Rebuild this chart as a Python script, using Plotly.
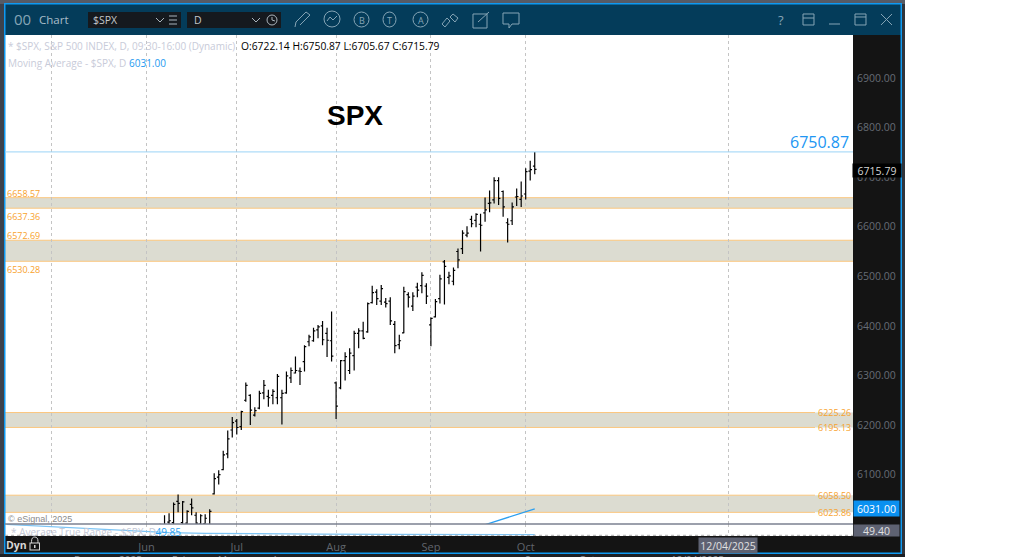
import plotly.graph_objects as go

W, H = 1024, 557

opens = [5980, 5990, 6004, 6003, 6046, 6003, 6002, 6040, 6018, 6000, 6001, 5995, 6061, 6095, 6110, 6142,
         6190, 6208, 6197, 6250, 6260, 6220, 6234, 6265, 6258, 6260, 6255, 6255, 6265, 6295, 6305, 6309,
         6328, 6368, 6370, 6392, 6400, 6385, 6370, 6285, 6275, 6330, 6310, 6340, 6385, 6390, 6388, 6447,
         6468, 6450, 6448, 6450, 6403, 6362, 6386, 6463, 6440, 6478, 6481, 6480, 6402, 6418, 6455, 6529,
         6498, 6490, 6550, 6556, 6583, 6615, 6613, 6605, 6628, 6647, 6654, 6693, 6671, 6608, 6612, 6660,
         6655, 6666, 6712, 6722.14]
highs = [6001, 6018, 6022, 6044, 6060, 6047, 6028, 6052, 6024, 6020, 6020, 6030, 6103, 6109, 6148, 6189,
         6216, 6212, 6229, 6286, 6262, 6236, 6269, 6291, 6271, 6272, 6303, 6271, 6308, 6316, 6338, 6316,
         6361, 6382, 6396, 6402, 6410, 6396, 6429, 6288, 6331, 6347, 6355, 6390, 6395, 6408.5, 6447, 6481,
         6474, 6482.5, 6456, 6458, 6410, 6382, 6479, 6468, 6468, 6487, 6508, 6486, 6417, 6454, 6503, 6533,
         6509, 6518, 6556, 6593, 6601, 6622, 6627, 6626, 6659, 6673, 6700, 6700, 6673, 6617, 6649, 6677,
         6691, 6718, 6733, 6750.87]
lows = [5975, 5985, 5990, 5995, 6024, 6001, 5990, 6018, 5985, 5985, 5985, 5990, 6060, 6080, 6109, 6133,
        6175, 6181, 6190, 6247, 6200, 6217, 6232, 6252, 6237, 6242, 6242, 6201, 6263, 6285, 6304, 6281,
        6308, 6359, 6368, 6375, 6361, 6337, 6328, 6212, 6272, 6290, 6303, 6310, 6355, 6373, 6386, 6445,
        6442, 6442, 6437, 6402, 6345, 6353, 6385, 6437, 6430, 6458, 6466, 6444, 6359, 6417, 6445, 6443,
        6484, 6482, 6516, 6545, 6579, 6599, 6599, 6550, 6610, 6629, 6647, 6644, 6620, 6568, 6603.5, 6642,
        6640, 6655, 6693, 6705.67]
closes = [5998, 5992, 6007, 6040, 6042, 6045, 6026, 6033, 6002, 6017, 6012, 6026, 6092, 6100, 6140, 6172,
          6205, 6195, 6227, 6280, 6230, 6229, 6264, 6280, 6255, 6268, 6298, 6264, 6299, 6310, 6310, 6308,
          6358, 6378, 6390, 6398, 6372, 6371, 6339, 6238, 6330, 6338, 6345, 6385, 6390, 6375, 6445, 6467,
          6455, 6475, 6445, 6410, 6360, 6370, 6469, 6458, 6460, 6472, 6502, 6460, 6415, 6449, 6495, 6520,
          6501, 6512, 6533, 6587, 6587, 6606, 6625, 6603, 6634, 6648, 6693, 6657, 6640, 6605, 6640, 6661,
          6662, 6711, 6715, 6715.79]
bars = list(range(len(closes)))

ma_bars = [71, 72, 73, 74, 75, 76, 77, 78, 79, 80, 81, 82, 83]
ma_values = [5996, 5999, 6002, 6005, 6008, 6011, 6014, 6017, 6020, 6023, 6026, 6029, 6031]

atr_bars = [-34, -28, -22, -15, -7, 2, 10, 20, 35, 50, 65, 83]
atr_values = [74, 70.5, 67, 62.5, 58, 54, 52.5, 51, 50.5, 50, 49.7, 49.4]

grid_bars = [-24, -3, 17, 39, 60, 81, 126]
grid_labels = ["", "Jun", "Jul", "Aug", "Sep", "Oct", ""]
price_ticks = [6100, 6200, 6300, 6400, 6500, 6600, 6700, 6800, 6900]
zone_tops = [6658.57, 6572.69, 6225.26, 6058.50]
zone_bottoms = [6637.36, 6530.28, 6195.13, 6023.86]
# axis of the window behind this one, only its top edge shows
behind_labels = ["Dec", "2025", "Feb", "Mar", "Apr", "Sep", "Oct", "12/04/2025"]
behind_xs = [83, 130, 180, 227, 280, 533, 587, 697]

LEFT, RIGHT, TOP, PANE_TOP, PANE_BOTTOM = 5, 853, 35, 524, 536
BAR_RANGE = [-34.34, 153.5]
PRICE_RANGE = [6000.4, 6986.7]
FONT = "Open Sans"
ORANGE = "#f8a22c"
BLUE = "#0f9af2"
ICON = "#86a5b6"


def px(x):
    return x / W


def py(y):
    return 1 - y / H


def rect(x0, y0, x1, y1, color, layer="above"):
    return dict(type="rect", xref="paper", yref="paper", x0=px(x0), x1=px(x1), y0=py(y0), y1=py(y1),
                fillcolor=color, line_width=0, layer=layer)


def circle(x0, y0, x1, y1, color=ICON, width=1):
    return dict(type="circle", xref="paper", yref="paper", x0=px(x0), x1=px(x1), y0=py(y0), y1=py(y1),
                line=dict(color=color, width=width), layer="above")


def stroke(points, color=ICON, width=1, closed=False):
    path = "M " + " L ".join(f"{px(x):.5f} {py(y):.5f}" for x, y in points)
    if closed:
        path += " Z"
    return dict(type="path", xref="paper", yref="paper", path=path, line=dict(color=color, width=width), layer="above")


def note(text, x, y, size=10, color="#000", anchor="left", family=FONT, **kw):
    return dict(text=text, xref="paper", yref="paper", x=px(x), y=py(y), xanchor=anchor, yanchor="middle",
                showarrow=False, font=dict(size=size, color=color, family=family), borderpad=0, **kw)


def price_note(text, x, price, anchor="left"):
    return dict(text=text, xref="paper", yref="y", x=px(x), y=price, xanchor=anchor, yanchor="middle",
                showarrow=False, font=dict(size=9, color=ORANGE, family=FONT), borderpad=0)


fig = go.Figure()
fig.add_trace(go.Ohlc(x=bars, open=opens, high=highs, low=lows, close=closes, tickwidth=0.4,
                      increasing_line=dict(color="#000", width=1.2),
                      decreasing_line=dict(color="#000", width=1.2),
                      xaxis="x", yaxis="y", showlegend=False, hoverinfo="skip"))
fig.add_trace(go.Scatter(x=ma_bars, y=ma_values, mode="lines", line=dict(color="#2b9ff0", width=1.3),
                         xaxis="x", yaxis="y", showlegend=False, hoverinfo="skip"))
fig.add_trace(go.Scatter(x=atr_bars, y=atr_values, mode="lines", line=dict(color="#7cc4f5", width=1.2),
                         xaxis="x2", yaxis="y2", showlegend=False, hoverinfo="skip"))
# lower pane legend gets cut by the pane edge, so it has to be a clipped trace
fig.add_trace(go.Scatter(x=[-33, -1], y=[51, 51], mode="text", text=["* Average True Range - $SPX, D", "49.85"],
                         textposition="middle right", textfont=dict(size=10, color=["#c4c8d6", "#2b9ff0"], family=FONT),
                         cliponaxis=True, xaxis="x2", yaxis="y2", showlegend=False, hoverinfo="skip"))

shapes = [
    # window chrome
    rect(0, 0, 905, 4, "#565b66", "below"),
    rect(0, 4, 4, 557, "#3d424c", "below"),
    rect(902, 4, 905, 557, "#30343b", "below"),
    rect(0, 554, 905, 557, "#1c1f24", "below"),
    rect(853, 35, 901, 553, "#141414", "below"),
    rect(5, 536, 853, 553, "#141414", "below"),
    rect(5, 4, 901, 35, "#043c5a"),
    rect(4, 3, 902, 4.5, BLUE),
    rect(4, 3, 5.5, 554, BLUE),
    rect(900.5, 3, 902, 554, BLUE),
    rect(4, 552.5, 902, 554, BLUE),
    rect(88, 12, 181, 28, "#15191e"),
    rect(187, 12, 281, 28, "#15191e"),
    # price line and pane separator
    dict(type="line", xref="paper", yref="y", x0=px(LEFT), x1=px(RIGHT), y0=highs[-1], y1=highs[-1],
         line=dict(color="#9ad3f6", width=1), layer="above"),
    dict(type="line", xref="paper", yref="paper", x0=px(LEFT), x1=px(RIGHT), y0=py(524), y1=py(524),
         line=dict(color="#7b8190", width=1.4), layer="above"),
    dict(type="line", xref="paper", yref="paper", x0=px(LEFT), x1=px(RIGHT), y0=py(535.3), y1=py(535.3),
         line=dict(color="#aaaaaa", width=1, dash="dot"), layer="above"),
    # toolbar icons
    stroke([(156, 18), (160, 22), (164, 18)], "#aab4bc"),
    stroke([(169, 16), (177, 16)], "#aab4bc"), stroke([(169, 20), (177, 20)], "#aab4bc"), stroke([(169, 24), (177, 24)], "#aab4bc"),
    stroke([(252, 18), (256, 22), (260, 18)], "#aab4bc"),
    circle(267, 15, 277, 25, "#aab4bc"),
    stroke([(272, 17), (272, 20), (275, 21)], "#aab4bc"),
    stroke([(295, 27), (296, 22), (306, 12), (310, 15), (300, 25)]),
    circle(324, 11, 340, 27),
    stroke([(327, 21), (330, 17), (333, 20), (337, 16)]),
    circle(354, 12, 369, 27),
    circle(383, 12, 396, 27),
    circle(413, 12, 428, 27),
    stroke([(442, 24), (447, 18), (450, 21), (445, 27)], closed=True),
    stroke([(453, 14), (458, 18), (455, 22), (450, 17)], closed=True),
    stroke([(473, 14), (487, 14), (487, 28), (473, 28)], closed=True),
    stroke([(478, 22), (489, 12)]),
    stroke([(503, 13), (519, 13), (519, 24), (512, 24), (509, 28), (509, 24), (503, 24)], closed=True),
    stroke([(803, 14), (814, 14), (814, 25), (803, 25)], closed=True),
    stroke([(803, 18), (814, 18)]),
    stroke([(829, 24), (840, 24)]),
    stroke([(855, 14), (866, 14), (866, 25), (855, 25)], closed=True),
    stroke([(855, 17), (866, 17)]),
    stroke([(881, 14), (892, 25)]),
    stroke([(892, 14), (881, 25)]),
    # lock
    circle(31.5, 537, 38, 546, "#d5d5d5"),
    rect(29.5, 542.5, 40, 550.5, "#d5d5d5"),
    rect(30.5, 543.5, 39, 549.5, "#141414"),
    rect(34, 545, 35.5, 548, "#d5d5d5"),
]

for i, (top, bottom) in enumerate(zip(zone_tops, zone_bottoms)):
    x_end = RIGHT if i < 2 else 815
    shapes.append(dict(type="rect", xref="paper", yref="y", x0=px(LEFT), x1=px(RIGHT), y0=bottom, y1=top,
                       fillcolor="#dcdcd1", line_width=0, layer="below"))
    for level in (top, bottom):
        shapes.append(dict(type="line", xref="paper", yref="y", x0=px(LEFT), x1=px(x_end), y0=level, y1=level,
                           line=dict(color="#fbc77f", width=1), layer="between"))

annotations = [
    note("00", 13, 19, 15, ICON),
    note("Chart", 38, 19, 11.5, "#a9bdc9"),
    note("$SPX", 92, 20, 10.5, "#c3c7cb"),
    note("D", 193, 20, 10.5, "#c3c7cb"),
    note("B", 361.5, 20, 9, ICON, "center"),
    note("T", 389.5, 20, 9, ICON, "center"),
    note("A", 420.5, 20, 9, ICON, "center"),
    note("?", 781, 20, 13, ICON, "center"),
    note("* $SPX, S&amp;P 500 INDEX, D, 09:30-16:00 (Dynamic)", 7, 46, 10, "#c8cbd9"),
    note("O:6722.14 H:6750.87 L:6705.67 C:6715.79", 240, 46, 10.3, "#000"),
    note("Moving Average - $SPX, D", 7, 63, 10, "#c8cbd9"),
    note("6031.00", 128, 63, 10, "#1e9af0"),
    note("<b>SPX</b>", 354.5, 116, 28, "#000", "center", "Liberation Sans"),
    note("6750.87", 850, 142, 16, "#2196f3", "right"),
    note("© eSignal, 2025", 7, 519, 9, "#8a8a8a", family="Liberation Sans"),
    note("<b>Dyn</b>", 5, 545, 10.5, "#d8d8d8"),
    note("6715.79", 877, 170, 10.5, "#d5d5d5", "center", bgcolor="#000", width=48, height=13),
    note("6031.00", 876, 508.5, 10.5, "#fff", "center", bgcolor="#0a90f0", width=45, height=15),
    note("49.40", 876, 530.5, 10.5, "#e0e0e0", "center", bgcolor="#5e6272", width=45, height=11),
    note("12/04/2025", 728, 545, 10.5, "#e0e0e0", "center", bgcolor="#5e6272", width=58, height=15),
    price_note(f"{zone_tops[0]:.2f}", 6, zone_tops[0] + 9),
    price_note(f"{zone_bottoms[0]:.2f}", 6, zone_bottoms[0] - 16),
    price_note(f"{zone_tops[1]:.2f}", 6, zone_tops[1] + 10),
    price_note(f"{zone_bottoms[1]:.2f}", 6, zone_bottoms[1] - 16),
    price_note(f"{zone_tops[2]:.2f}", 852, zone_tops[2], "right"),
    price_note(f"{zone_bottoms[2]:.2f}", 852, zone_bottoms[2], "right"),
    price_note(f"{zone_tops[3]:.2f}", 852, zone_tops[3], "right"),
    price_note(f"{zone_bottoms[3]:.2f}", 852, zone_bottoms[3], "right"),
]
for label, x in zip(behind_labels, behind_xs):
    annotations.append(note(label, x, 560, 10, "#8a8f98", "center"))

grid = dict(showgrid=True, gridcolor="#c4c4c4", griddash="dot", gridwidth=1, zeroline=False, showline=False,
            range=BAR_RANGE, tickmode="array", tickvals=grid_bars, fixedrange=True)

fig.update_layout(
    width=W, height=H, margin=dict(l=0, r=0, t=0, b=0), paper_bgcolor="#fff", plot_bgcolor="#fff",
    dragmode=False, hovermode=False, showlegend=False, shapes=shapes, annotations=annotations,
    xaxis=dict(domain=[px(LEFT), px(RIGHT)], anchor="y", showticklabels=False, rangeslider_visible=False, **grid),
    xaxis2=dict(domain=[px(LEFT), px(RIGHT)], anchor="y2", ticktext=grid_labels, ticks="",
                ticklabelstandoff=3, tickfont=dict(size=11, color="#60656d", family=FONT), **grid),
    yaxis=dict(domain=[py(PANE_TOP), py(TOP)], anchor="x", side="right", range=PRICE_RANGE, showgrid=False,
               zeroline=False, tickmode="array", tickvals=price_ticks, tickformat=".2f", ticks="",
               ticklabelstandoff=3, tickfont=dict(size=10.5, color="#666c74", family=FONT), fixedrange=True),
    yaxis2=dict(domain=[py(PANE_BOTTOM), py(PANE_TOP)], anchor="x2", side="right", range=[46, 75], showgrid=False,
                zeroline=False, showticklabels=False, fixedrange=True),
)

fig.write_html("out.html", config={"displayModeBar": False},
               post_script="document.body.style.margin='0';document.documentElement.style.overflow='hidden';")
